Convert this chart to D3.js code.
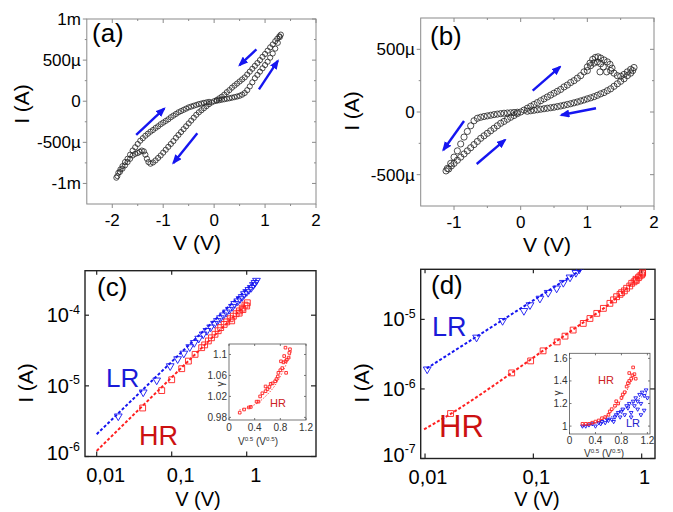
<!DOCTYPE html>
<html>
<head>
<meta charset="utf-8">
<script src="https://cdn.jsdelivr.net/npm/d3@7"></script>
<style>
body { margin: 0; background: #fff; }
</style>
</head>
<body>
<div id="chart-area"></div>
<script>
/*
*    4-panel I-V figure
*/

// (a) hysteresis loop, V in volts, I in mA
var aPosOut = [[0,0],[0.05,0.005],[0.1,0.012],[0.15,0.018],[0.2,0.024],[0.25,0.03],[0.3,0.036],[0.35,0.043],[0.4,0.05],[0.45,0.057],[0.5,0.066],[0.55,0.08],[0.6,0.1],[0.65,0.135],[0.7,0.18],[0.75,0.23],[0.8,0.28],[0.85,0.32],[0.9,0.36],[0.95,0.4],[1.0,0.44],[1.05,0.48],[1.1,0.53],[1.15,0.58],[1.2,0.64],[1.25,0.71],[1.29,0.78],[1.31,0.81]];
var aPosBack = [[1.28,0.79],[1.24,0.76],[1.2,0.73],[1.15,0.69],[1.1,0.655],[1.05,0.615],[1.0,0.575],[0.95,0.54],[0.9,0.5],[0.85,0.465],[0.8,0.43],[0.75,0.395],[0.7,0.36],[0.65,0.325],[0.6,0.29],[0.55,0.265],[0.5,0.24],[0.45,0.215],[0.4,0.19],[0.35,0.165],[0.3,0.135],[0.25,0.11],[0.2,0.08],[0.15,0.055],[0.1,0.035],[0.05,0.015]];
var aNegOut = [[-0.05,-0.015],[-0.1,-0.035],[-0.15,-0.06],[-0.2,-0.085],[-0.25,-0.11],[-0.3,-0.135],[-0.35,-0.165],[-0.4,-0.2],[-0.45,-0.235],[-0.5,-0.27],[-0.55,-0.305],[-0.6,-0.34],[-0.65,-0.375],[-0.7,-0.41],[-0.75,-0.445],[-0.8,-0.485],[-0.85,-0.52],[-0.9,-0.555],[-0.95,-0.59],[-1.0,-0.625],[-1.05,-0.66],[-1.1,-0.69],[-1.15,-0.72],[-1.2,-0.745],[-1.25,-0.76],[-1.29,-0.74],[-1.32,-0.7],[-1.35,-0.65],[-1.38,-0.61],[-1.42,-0.6],[-1.46,-0.615],[-1.5,-0.63],[-1.55,-0.64],[-1.6,-0.66],[-1.65,-0.7],[-1.7,-0.74],[-1.75,-0.78],[-1.8,-0.82],[-1.85,-0.86],[-1.9,-0.91],[-1.92,-0.93]];
var aNegBack = [[-1.88,-0.87],[-1.84,-0.83],[-1.8,-0.79],[-1.75,-0.74],[-1.7,-0.7],[-1.65,-0.65],[-1.6,-0.6],[-1.55,-0.56],[-1.5,-0.52],[-1.45,-0.48],[-1.4,-0.45],[-1.35,-0.42],[-1.3,-0.395],[-1.25,-0.37],[-1.2,-0.35],[-1.15,-0.325],[-1.1,-0.305],[-1.05,-0.28],[-1.0,-0.26],[-0.95,-0.24],[-0.9,-0.22],[-0.85,-0.195],[-0.8,-0.175],[-0.75,-0.155],[-0.7,-0.135],[-0.65,-0.12],[-0.6,-0.105],[-0.55,-0.09],[-0.5,-0.075],[-0.45,-0.065],[-0.4,-0.055],[-0.35,-0.045],[-0.3,-0.035],[-0.25,-0.028],[-0.2,-0.02],[-0.15,-0.014],[-0.1,-0.008]];
var aArrows = [[0.83,0.63,0.5,0.44],[0.88,0.145,1.25,0.49],[-1.53,-0.41,-0.98,-0.09],[-0.33,-0.39,-0.8,-0.75]];

// (b) second loop, V in volts, I in mA
var bPosOut = [[0.05,0.015],[0.1,0.03],[0.15,0.045],[0.2,0.06],[0.25,0.075],[0.3,0.09],[0.35,0.105],[0.4,0.12],[0.45,0.135],[0.5,0.15],[0.55,0.165],[0.6,0.18],[0.65,0.2],[0.7,0.215],[0.75,0.235],[0.8,0.25],[0.85,0.27],[0.9,0.29],[0.95,0.32],[1.0,0.36],[1.04,0.39],[1.08,0.42],[1.12,0.435],[1.16,0.44],[1.2,0.43],[1.25,0.415],[1.3,0.4],[1.34,0.38],[1.37,0.35],[1.4,0.31],[1.45,0.29],[1.5,0.285],[1.55,0.3],[1.6,0.32],[1.65,0.34],[1.7,0.355],[1.0,0.33],[1.05,0.37],[1.1,0.39],[1.15,0.4],[1.2,0.385],[1.24,0.36],[1.19,0.32],[1.29,0.32],[1.35,0.33]];
var bPosBack = [[1.68,0.33],[1.65,0.31],[1.6,0.29],[1.55,0.265],[1.5,0.245],[1.45,0.225],[1.4,0.205],[1.35,0.185],[1.3,0.17],[1.25,0.155],[1.2,0.145],[1.15,0.133],[1.1,0.122],[1.05,0.113],[1.0,0.105],[0.95,0.096],[0.9,0.088],[0.85,0.08],[0.8,0.073],[0.75,0.066],[0.7,0.06],[0.65,0.054],[0.6,0.048],[0.55,0.043],[0.5,0.038],[0.45,0.034],[0.4,0.03],[0.35,0.026],[0.3,0.022],[0.25,0.018],[0.2,0.014],[0.15,0.01],[0.1,0.006]];
var bNegOut = [[-0.05,-0.002],[-0.1,-0.004],[-0.15,-0.006],[-0.2,-0.008],[-0.25,-0.01],[-0.3,-0.013],[-0.35,-0.017],[-0.4,-0.021],[-0.45,-0.026],[-0.5,-0.031],[-0.55,-0.036],[-0.6,-0.042],[-0.65,-0.05],[-0.7,-0.07],[-0.75,-0.11],[-0.8,-0.155],[-0.85,-0.2],[-0.9,-0.255],[-0.95,-0.31],[-1.0,-0.36],[-1.05,-0.41],[-1.1,-0.45],[-1.12,-0.47]];
var bNegBack = [[-1.08,-0.455],[-1.04,-0.43],[-1.0,-0.41],[-0.95,-0.385],[-0.9,-0.36],[-0.85,-0.335],[-0.8,-0.31],[-0.75,-0.285],[-0.7,-0.26],[-0.65,-0.235],[-0.6,-0.21],[-0.55,-0.19],[-0.5,-0.17],[-0.45,-0.15],[-0.4,-0.13],[-0.35,-0.11],[-0.3,-0.09],[-0.25,-0.075],[-0.2,-0.058],[-0.15,-0.042],[-0.1,-0.028],[-0.05,-0.013],[0,0]];
var bArrows = [[0.18,0.17,0.59,0.36],[1.13,0.03,0.61,-0.024],[-0.85,-0.072,-1.16,-0.303],[-0.66,-0.415,-0.235,-0.223]];

// tick labels
var aYTicks = [-1, -0.5, 0, 0.5, 1];
var aYLabels = ["-1m", "-500\u00b5", "0", "500\u00b5", "1m"];
var aXTicks = [-2, -1, 0, 1, 2];
var bYTicks = [-0.5, 0, 0.5];
var bYLabels = ["-500\u00b5", "0", "500\u00b5"];
var bXTicks = [-1, 0, 1, 2];
var logXTicks = [0.01, 0.1, 1];
var logXLabels = ["0,01", "0,1", "1"];

// (c) log-log, V in volts, I in A
var lrC_V = [0.0194,0.0417,0.0631,0.0955,0.120,0.145,0.174,0.200,0.229,0.263,0.295,0.331,0.372,0.407,0.447,0.490,0.537,0.589,0.646,0.692,0.759,0.813,0.871,0.933,1.0,1.07,1.15,1.23,1.29,1.35];
var lrC_I = [3.72e-6,8.13e-6,1.20e-5,1.91e-5,2.40e-5,2.88e-5,3.55e-5,4.07e-5,4.68e-5,5.37e-5,6.03e-5,6.76e-5,7.59e-5,8.32e-5,9.12e-5,1.0e-4,1.10e-4,1.20e-4,1.32e-4,1.45e-4,1.58e-4,1.70e-4,1.82e-4,2.0e-4,2.14e-4,2.29e-4,2.45e-4,2.69e-4,2.88e-4,3.09e-4];
var hrC_V = [0.041,0.0736,0.1,0.136,0.167,0.205,0.251,0.275,0.308,0.339,0.378,0.417,0.45,0.501,0.541,0.603,0.631,0.664,0.724,0.794,0.798,0.871,0.891,0.948,1.0,1.02];
var hrC_I = [4.86e-6,8.57e-6,1.22e-5,1.75e-5,2.24e-5,2.79e-5,3.47e-5,3.80e-5,4.32e-5,4.79e-5,5.37e-5,6.03e-5,6.68e-5,7.41e-5,8.04e-5,8.91e-5,8.32e-5,9.68e-5,1.05e-4,1.07e-4,1.15e-4,1.26e-4,1.20e-4,1.39e-4,1.35e-4,1.50e-4];
var lrC_fit = [[0.01, 2.07e-6], [1.36, 3.2e-4]];
var hrC_fit = [[0.01, 1.2e-6], [1.0, 1.45e-4]];

// (d) log-log, V in volts, I in A
var lrD_V = [0.01047,0.0299,0.052,0.0818,0.0931,0.115,0.137,0.164,0.189,0.218,0.247,0.265];
var lrD_I = [1.92e-6,5.51e-6,9.55e-6,1.33e-5,1.61e-5,2.0e-5,2.42e-5,2.80e-5,3.37e-5,4.03e-5,4.69e-5,5.25e-5];
var hrD_V = [0.0172,0.0631,0.0944,0.123,0.166,0.196,0.233,0.289,0.333,0.385,0.443,0.509,0.55,0.587,0.631,0.653,0.692,0.726,0.776,0.809,0.851,0.885,0.891,0.933,0.964,1.0,1.02,1.02];
var hrD_I = [4.43e-7,1.70e-6,2.53e-6,3.53e-6,4.75e-6,5.74e-6,7.02e-6,8.75e-6,1.03e-5,1.22e-5,1.44e-5,1.70e-5,1.91e-5,2.12e-5,2.29e-5,2.42e-5,2.57e-5,2.80e-5,3.02e-5,3.30e-5,3.47e-5,3.77e-5,3.63e-5,3.98e-5,4.21e-5,4.37e-5,4.60e-5,4.79e-5];
var lrD_fit = [[0.01035, 1.97e-6], [0.3, 5.6e-5]];
var hrD_fit = [[0.0098, 2.62e-7], [0.0172, 4.37e-7], [0.0631, 1.70e-6], [0.123, 3.55e-6], [0.251, 7.76e-6], [0.501, 1.66e-5], [1.0, 4.37e-5], [1.035, 4.57e-5]];

// insets: x = V^0.5, y = gamma
var insC_HR = [[0.167,0.989],[0.235,0.995],[0.31,0.999],[0.34,1.0],[0.43,1.01],[0.46,1.01],[0.485,1.02],[0.52,1.026],[0.57,1.03],[0.6,1.034],[0.57,1.039],[0.63,1.038],[0.65,1.044],[0.68,1.045],[0.72,1.049],[0.74,1.053],[0.76,1.058],[0.77,1.065],[0.8,1.07],[0.83,1.074],[0.81,1.087],[0.85,1.085],[0.88,1.087],[0.9,1.09],[0.86,1.097],[0.89,1.065],[0.93,1.094],[0.88,1.113],[0.95,1.11],[0.94,1.103]];
var insC_HRfit = [[0.16,0.994],[0.3,0.999],[0.45,1.008],[0.6,1.024],[0.7,1.038],[0.8,1.058],[0.88,1.078],[0.95,1.098],[0.98,1.108]];
var insD_HR = [[0.2,1.02],[0.25,1.02],[0.3,1.02],[0.35,1.03],[0.4,1.04],[0.45,1.05],[0.5,1.07],[0.55,1.08],[0.6,1.1],[0.62,1.13],[0.65,1.15],[0.7,1.18],[0.72,1.22],[0.75,1.2],[0.8,1.25],[0.82,1.28],[0.85,1.3],[0.88,1.35],[0.9,1.38],[0.92,1.4],[0.95,1.42],[0.97,1.45],[0.92,1.47],[1.0,1.46],[0.98,1.52],[1.02,1.42]];
var insD_LR = [[0.2,1.0],[0.25,1.0],[0.3,1.01],[0.35,1.02],[0.4,1.0],[0.45,1.03],[0.5,1.04],[0.55,1.03],[0.6,1.05],[0.65,1.06],[0.7,1.08],[0.72,1.1],[0.75,1.12],[0.78,1.08],[0.8,1.13],[0.82,1.15],[0.85,1.1],[0.88,1.18],[0.9,1.16],[0.92,1.2],[0.95,1.12],[0.98,1.22],[1.0,1.18],[1.02,1.25],[1.05,1.15],[1.08,1.28],[1.1,1.2],[1.12,1.3],[1.15,1.14],[1.18,1.32],[1.2,1.25],[1.05,1.22],[0.95,1.08],[1.1,1.1],[1.15,1.27],[0.68,1.04],[0.58,1.06],[0.48,1.02]];
var insD_HRfit = [[0.2,1.0],[0.5,1.06],[0.7,1.16],[0.85,1.28],[1.0,1.45]];
var insD_LRfit = [[0.2,1.0],[0.6,1.07],[0.9,1.17],[1.2,1.3]];
var insCYTicks = [0.98, 1.02, 1.06, 1.1];
var insCYLabels = ["0.98", "1.02", "1.06", "1.1"];
var insDYTicks = [1, 1.2, 1.4, 1.6];
var insDYLabels = ["1", "1.2", "1.4", "1.6"];
var insXTicks = [0, 0.4, 0.8, 1.2];
var insXLabels = ["0", "0.4", "0.8", "1.2"];

var FONT = "'Liberation Sans', Arial, Helvetica, sans-serif";
var BLUE = "#1515f0";
var RED = "#ff2020";

var svg = d3.select("#chart-area").append("svg")
    .attr("width", 673)
    .attr("height", 512)
    .style("font-family", FONT);

var defs = svg.append("defs");
defs.append("marker")
    .attr("id", "arrow")
    .attr("markerUnits", "userSpaceOnUse")
    .attr("viewBox", "0 0 10 8")
    .attr("markerWidth", 10).attr("markerHeight", 8)
    .attr("refX", 8).attr("refY", 4)
    .attr("orient", "auto")
    .append("path").attr("d", "M0,0 L10,4 L0,8 Z").attr("fill", BLUE);

function text(g, x, y, str, size, anchor, color) {
    return g.append("text").attr("x", x).attr("y", y)
        .attr("font-size", size)
        .attr("text-anchor", anchor || "start")
        .attr("fill", color || "#000")
        .text(str);
}

// text with superscript parts: parts = [[string, isSup], ...]
function richText(g, x, y, parts, size, anchor, color) {
    var t = g.append("text").attr("x", x).attr("y", y)
        .attr("font-size", size)
        .attr("text-anchor", anchor || "start")
        .attr("fill", color || "#000");
    var up = false;
    parts.forEach(function(p) {
        var dy = (p[1] && !up) ? -0.42 * size : ((!p[1] && up) ? 0.42 * size : 0);
        t.append("tspan").attr("dy", dy).attr("font-size", p[1] ? size * 0.62 : size).text(p[0]);
        up = p[1];
    });
    return t;
}

function xTicks(g, x, vals, y0, len, color, w) {
    g.selectAll(null).data(vals).enter().append("line")
        .attr("x1", (d) => x(d)).attr("x2", (d) => x(d))
        .attr("y1", y0).attr("y2", y0 + len)
        .attr("stroke", color).attr("stroke-width", w);
}

function yTicks(g, y, vals, x0, len, color, w) {
    g.selectAll(null).data(vals).enter().append("line")
        .attr("y1", (d) => y(d)).attr("y2", (d) => y(d))
        .attr("x1", x0).attr("x2", x0 + len)
        .attr("stroke", color).attr("stroke-width", w);
}

function frame(g, x, y, color, w, fill) {
    var xr = x.range(), yr = y.range();
    g.append("rect")
        .attr("x", xr[0]).attr("y", yr[1])
        .attr("width", xr[1] - xr[0]).attr("height", yr[0] - yr[1])
        .attr("fill", fill || "none").attr("stroke", color).attr("stroke-width", w);
}

// linear panels (a) and (b)
function linearPanel(g, x, y, o) {
    var xr = x.range(), yr = y.range();
    var c = "#8a8a8a";
    frame(g, x, y, c, 1);
    yTicks(g, y, o.yMajor, xr[0], -4, c, 1);
    yTicks(g, y, o.yMinor, xr[0], -2, c, 1);
    yTicks(g, y, o.yMajor, xr[1], -4, c, 1);
    yTicks(g, y, o.yMinor, xr[1], -2, c, 1);
    xTicks(g, x, o.xMajor, yr[0], 4, c, 1);
    xTicks(g, x, o.xMinor, yr[0], 2, c, 1);
    xTicks(g, x, o.xMajor, yr[1], 4, c, 1);
    xTicks(g, x, o.xMinor, yr[1], 2, c, 1);

    g.selectAll(null).data(o.yMajor).enter().append("text")
        .attr("x", xr[0] - 6).attr("y", (d) => y(d) + 6)
        .attr("font-size", 17).attr("text-anchor", "end")
        .text((d, i) => o.yLabels[i]);
    g.selectAll(null).data(o.xMajor).enter().append("text")
        .attr("x", (d) => x(d)).attr("y", yr[0] + 22)
        .attr("font-size", 17).attr("text-anchor", "middle")
        .text((d) => d3.format("d")(d).replace("\u2212", "-"));
}

function drawLoop(g, x, y, pts, r) {
    g.selectAll(null).data(pts).enter().append("circle")
        .attr("cx", (d) => x(d[0])).attr("cy", (d) => y(d[1]))
        .attr("r", r)
        .attr("fill", "none").attr("stroke", "#222").attr("stroke-width", 0.8);
}

function drawArrows(g, x, y, arr) {
    g.selectAll(null).data(arr).enter().append("line")
        .attr("x1", (d) => x(d[0])).attr("y1", (d) => y(d[1]))
        .attr("x2", (d) => x(d[2])).attr("y2", (d) => y(d[3]))
        .attr("stroke", BLUE).attr("stroke-width", 2.4)
        .attr("marker-end", "url(#arrow)");
}

// ---------- (a)
var gA = svg.append("g");
var xA = d3.scaleLinear().domain([-2.5, 2]).range([86.8, 316]);
var yA = d3.scaleLinear().domain([-1.25, 1]).range([204, 19]);
linearPanel(gA, xA, yA, {
    xMajor: aXTicks, xMinor: [-1.5, -0.5, 0.5, 1.5],
    yMajor: aYTicks, yMinor: [-0.75, -0.25, 0.25, 0.75],
    yLabels: aYLabels
});
[aPosOut, aPosBack, aNegOut, aNegBack].forEach((s) => drawLoop(gA, xA, yA, s, 2.6));
drawArrows(gA, xA, yA, aArrows);
text(gA, 92, 42, "(a)", 26);
text(gA, 197, 250, "V (V)", 21, "middle");
text(gA, 0, 0, "I (A)", 21, "middle").attr("transform", "translate(29,104) rotate(-90)");

// ---------- (b)
var gB = svg.append("g");
var xB = d3.scaleLinear().domain([-1.5, 2]).range([420.7, 654]);
var yB = d3.scaleLinear().domain([-0.75, 0.75]).range([206, 18]);
linearPanel(gB, xB, yB, {
    xMajor: bXTicks, xMinor: [-0.5, 0.5, 1.5],
    yMajor: bYTicks, yMinor: [-0.25, 0.25],
    yLabels: bYLabels
});
[bPosOut, bPosBack, bNegOut, bNegBack].forEach((s) => drawLoop(gB, xB, yB, s, 3.1));
drawArrows(gB, xB, yB, bArrows);
text(gB, 430, 45, "(b)", 26);
text(gB, 547, 252, "V (V)", 21, "middle");
text(gB, 0, 0, "I (A)", 21, "middle").attr("transform", "translate(359,111) rotate(-90)");

// log panels (c) and (d)
function logPanel(g, x, y, yVals, yExps, labelDx, clipId) {
    var xr = x.range(), yr = y.range();
    var c = "#222";
    frame(g, x, y, c, 1.4);
    yTicks(g, y, yVals, xr[0], 4, c, 1.2);
    yTicks(g, y, yVals, xr[1], -5, c, 1.2);
    xTicks(g, x, logXTicks, yr[0], -5, c, 1.2);
    xTicks(g, x, logXTicks, yr[1], 4, c, 1.2);
    yVals.forEach(function(v, i) {
        var shift = (i === 0) ? -4 : 0;
        richText(g, xr[0] - 5, y(v) + 7 + shift, [["10", false], [yExps[i], true]], 20, "end");
    });
    g.selectAll(null).data(logXTicks).enter().append("text")
        .attr("x", (d) => x(d) + labelDx).attr("y", yr[0] + 25.5)
        .attr("font-size", 20).attr("text-anchor", "middle")
        .text((d, i) => logXLabels[i]);
    defs.append("clipPath").attr("id", clipId).append("rect")
        .attr("x", xr[0]).attr("y", yr[1])
        .attr("width", xr[1] - xr[0]).attr("height", yr[0] - yr[1]);
}

function fitLine(g, x, y, pts, color, w, dash, clipId) {
    var line = d3.line().x((d) => x(d[0])).y((d) => y(d[1])).curve(d3.curveMonotoneX);
    g.append("path").datum(pts)
        .attr("d", line)
        .attr("fill", "none").attr("stroke", color)
        .attr("stroke-width", w).attr("stroke-dasharray", dash)
        .attr("clip-path", clipId ? "url(#" + clipId + ")" : null);
}

function triangles(g, x, y, pts, color, size, clipId) {
    g.append("g").attr("clip-path", clipId ? "url(#" + clipId + ")" : null)
        .selectAll("path").data(pts).enter().append("path")
        .attr("d", d3.symbol(d3.symbolTriangle, size))
        .attr("transform", (d) => "translate(" + x(d[0]) + "," + y(d[1]) + ") rotate(180)")
        .attr("fill", "none").attr("stroke", color).attr("stroke-width", 0.9);
}

function squares(g, x, y, pts, color, size, clipId) {
    g.append("g").attr("clip-path", clipId ? "url(#" + clipId + ")" : null)
        .selectAll("path").data(pts).enter().append("path")
        .attr("d", d3.symbol(d3.symbolSquare, size))
        .attr("transform", (d) => "translate(" + x(d[0]) + "," + y(d[1]) + ")")
        .attr("fill", "none").attr("stroke", color).attr("stroke-width", 0.9);
}

function inset(g, x, y, yVals, yLabels, gammaPos, titlePos, labelGap) {
    var xr = x.range(), yr = y.range();
    var c = "#555";
    frame(g, x, y, c, 0.8, "#fff");
    yTicks(g, y, yVals, xr[0], 2, c, 0.8);
    yTicks(g, y, yVals, xr[1], -2, c, 0.8);
    xTicks(g, x, insXTicks, yr[0], -2, c, 0.8);
    xTicks(g, x, insXTicks, yr[1], 2, c, 0.8);
    g.selectAll(null).data(yVals).enter().append("text")
        .attr("x", xr[0] - 2).attr("y", (d) => y(d) + 3.5)
        .attr("font-size", 10).attr("text-anchor", "end").attr("fill", "#333")
        .text((d, i) => yLabels[i]);
    g.selectAll(null).data(insXTicks).enter().append("text")
        .attr("x", (d) => x(d)).attr("y", yr[0] + labelGap)
        .attr("font-size", 10).attr("text-anchor", "middle").attr("fill", "#333")
        .text((d, i) => insXLabels[i]);
    richText(g, titlePos[0], titlePos[1], [["V", false], ["0.5", true], [" (V", false], ["0.5", true], [")", false]], 10, "middle", "#333");
    text(g, 0, 0, "\u03b3", 10, "middle", "#333")
        .attr("transform", "translate(" + gammaPos[0] + "," + gammaPos[1] + ") rotate(-90)");
}

// ---------- (c)
var gC = svg.append("g");
var xC = d3.scaleLog().domain([Math.pow(10, -2.156), Math.pow(10, 0.924)]).range([85, 316]);
var yC = d3.scaleLog().domain([1e-6, Math.pow(10, -3.37)]).range([456.5, 270.7]);
logPanel(gC, xC, yC, [1e-6, 1e-5, 1e-4], ["-6", "-5", "-4"], 9, "clipC");
fitLine(gC, xC, yC, lrC_fit, BLUE, 2, "3,2", "clipC");
fitLine(gC, xC, yC, hrC_fit, RED, 2, "3,2", "clipC");
triangles(gC, xC, yC, d3.zip(lrC_V, lrC_I), BLUE, 26, "clipC");
squares(gC, xC, yC, d3.zip(hrC_V, hrC_I), RED, 34, "clipC");
text(gC, 97, 296, "(c)", 26);
text(gC, 106, 387, "LR", 26, "start", "#1a1ad8");
text(gC, 139, 445, "HR", 27, "start", "#cc1111");
text(gC, 198, 506, "V (V)", 20, "middle");
text(gC, 0, 0, "I (A)", 21, "middle").attr("transform", "translate(33,383) rotate(-90)");

var xCi = d3.scaleLinear().domain([0, 1.2]).range([229, 306]);
var yCi = d3.scaleLinear().domain([0.975, 1.12]).range([420, 344]);
inset(gC, xCi, yCi, insCYTicks, insCYLabels, [224, 384], [258, 445], 11);
fitLine(gC, xCi, yCi, insC_HRfit, RED, 0.8, "1.5,1.5");
squares(gC, xCi, yCi, insC_HR, RED, 7);
text(gC, 270, 407, "HR", 11, "start", "#cc2222");

// ---------- (d)
var gD = svg.append("g");
var xD = d3.scaleLog().domain([Math.pow(10, -2.04), Math.pow(10, 0.123)]).range([420.7, 655]);
var yD = d3.scaleLog().domain([1e-7, Math.pow(10, -4.28)]).range([458.5, 269.3]);
logPanel(gD, xD, yD, [1e-7, 1e-6, 1e-5], ["-7", "-6", "-5"], 3, "clipD");
fitLine(gD, xD, yD, lrD_fit, BLUE, 2, "3,2", "clipD");
fitLine(gD, xD, yD, hrD_fit, RED, 2, "3,2", "clipD");
triangles(gD, xD, yD, d3.zip(lrD_V, lrD_I), BLUE, 26, "clipD");
squares(gD, xD, yD, d3.zip(hrD_V, hrD_I), RED, 34, "clipD");
text(gD, 431, 294, "(d)", 26);
text(gD, 432, 336, "LR", 27, "start", "#1a1ad8");
text(gD, 439, 437, "HR", 31, "start", "#cc1111");
text(gD, 537, 506, "V (V)", 20, "middle");
text(gD, 0, 0, "I (A)", 21, "middle").attr("transform", "translate(369,383) rotate(-90)");

var xDi = d3.scaleLinear().domain([0, 1.24]).range([569.5, 650]);
var yDi = d3.scaleLinear().domain([0.93, 1.645]).range([434, 353.3]);
inset(gD, xDi, yDi, insDYTicks, insDYLabels, [561, 393], [604, 457], 10);
fitLine(gD, xDi, yDi, insD_LRfit, BLUE, 0.8, "1.5,1.5");
fitLine(gD, xDi, yDi, insD_HRfit, RED, 0.8, "1.5,1.5");
triangles(gD, xDi, yDi, insD_LR, BLUE, 6);
squares(gD, xDi, yDi, insD_HR, RED, 7);
text(gD, 598, 384, "HR", 11, "start", "#cc2222");
text(gD, 626, 427, "LR", 11, "start", "#2222cc");
</script>
</body>
</html>
